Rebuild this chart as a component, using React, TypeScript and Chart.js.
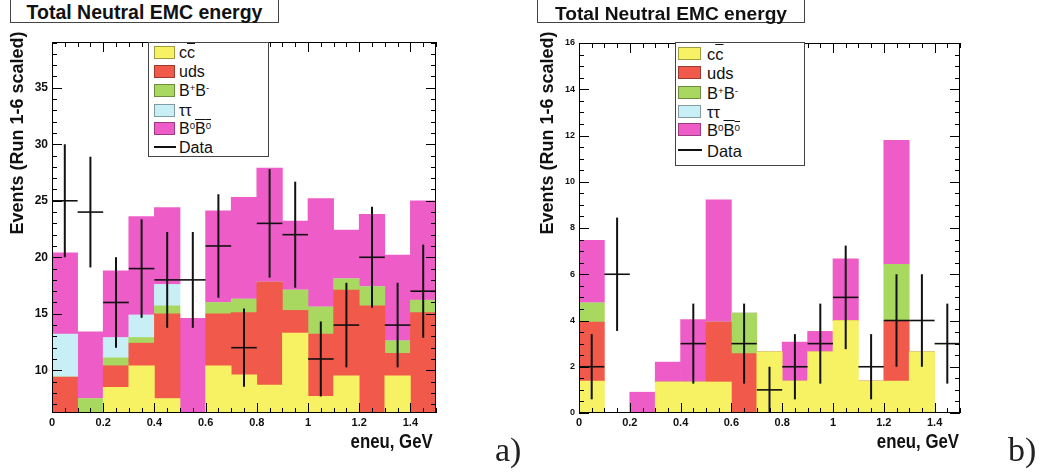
import React, { useEffect, useRef } from 'react';
import { Chart, registerables } from 'chart.js';

Chart.register(...registerables);

const FONT = '"Liberation Sans", Arial, Helvetica, sans-serif';

// ---- shared categories / ticks ----
const binCenters = [0.05, 0.15, 0.25, 0.35, 0.45, 0.55, 0.65, 0.75, 0.85, 0.95, 1.05, 1.15, 1.25, 1.35, 1.45];
const binHalfWidth = 0.05;
const xTickValues = [0, 0.2, 0.4, 0.6, 0.8, 1.0, 1.2, 1.4];
const xTickLabels = ['0', '0.2', '0.4', '0.6', '0.8', '1', '1.2', '1.4'];

const seriesNames = ['cc\u0305', 'uds', 'B\u207AB\u207B', '\u03C4\u03C4', 'B\u2070B\u0305\u2070'];
const seriesColors = ['#f6f264', '#f15a4a', '#a8d860', '#c8eff6', '#ee5cc8'];
const dataLabel = 'Data';
const titleText = 'Total Neutral EMC energy';
const yTitle = 'Events (Run 1-6 scaled)';
const xTitle = 'eneu, GeV';

// ---- panel a) ----
const aCC = [4.0, 2.7, 8.5, 10.4, 7.5, 2.7, 10.4, 9.6, 8.7, 13.3, 7.7, 9.5, 4.0, 9.5, 4.0];
const aUDS = [5.4, 2.3, 1.9, 2.0, 7.5, 2.3, 4.6, 5.5, 9.1, 2.0, 5.5, 7.6, 11.7, 2.0, 11.1];
const aBpBm = [0.0, 2.5, 0.7, 0.5, 0.7, 0.7, 1.0, 1.2, 0.0, 1.8, 2.4, 1.0, 1.7, 1.1, 1.1];
const aTauTau = [3.8, 0.0, 1.8, 2.0, 1.9, 0.3, 0, 0, 0, 0, 0, 0, 0, 0, 0];
const aB0B0 = [7.2, 5.9, 5.9, 8.7, 6.8, 8.6, 8.1, 9.0, 10.1, 6.1, 9.6, 4.3, 6.4, 7.6, 8.8];
const aData = [25, 24, 16, 19, 18, 18, 21, 12, 23, 22, 11, 14, 20, 14, 17];
const aErr = [5.0, 4.9, 4.0, 4.36, 4.24, 4.24, 4.58, 3.46, 4.8, 4.69, 3.32, 3.74, 4.47, 3.74, 4.12];
const aYTicks = [10, 15, 20, 25, 30, 35];
const aYTickLabels = ['10', '15', '20', '25', '30', '35'];

// ---- panel b) ----
const bCC = [1.38, 0, 0, 1.34, 1.34, 1.34, 0, 2.64, 1.38, 2.64, 4.0, 1.38, 1.38, 2.64, 0];
const bUDS = [2.55, 0, 0, 0, 0, 2.59, 2.57, 0, 0, 0, 0, 0, 2.6, 0, 0];
const bBpBm = [0.83, 0, 0, 0, 0, 0, 1.75, 0, 0, 0, 0, 0, 2.45, 0, 0];
const bTauTau = [0, 0, 0, 0, 0, 0, 0, 0, 0, 0, 0, 0, 0, 0, 0];
const bB0B0 = [2.71, 0, 0.9, 0.86, 2.7, 5.29, 0, 0, 1.69, 0.89, 2.67, 0, 5.36, 0, 0];
const bData = [2, 6, null, null, 3, null, 3, 1, 2, 3, 5, 2, 4, 4, 3];
const bErr = [1.41, 2.45, null, null, 1.73, null, 1.73, 1.0, 1.41, 1.73, 2.24, 1.41, 2.0, 2.0, 1.73];
const bYTicks = [0, 2, 4, 6, 8, 10, 12, 14, 16];
const bYTickLabels = ['0', '2', '4', '6', '8', '10', '12', '14', '16'];

type Panel = {
  comps: number[][];
  data: (number | null)[];
  err: (number | null)[];
  yMin: number;
  yMax: number;
  yTicks: number[];
  yTickLabels: string[];
  yMinorStep: number;
  yTickFont: number;
  xTickFont: number;
  padTop: number;
  padRight: number;
  yTitleX: number;
  xTitleRight: number;
};

function makeChart(canvas: HTMLCanvasElement, p: Panel) {
  const crossPlugin = {
    id: 'dataCross',
    afterDatasetsDraw(chart: any) {
      const { ctx, chartArea: ca } = chart;
      const xs = chart.scales.x;
      const ys = chart.scales.y;
      ctx.save();
      ctx.beginPath();
      ctx.rect(ca.left, ca.top, ca.right - ca.left, ca.bottom - ca.top);
      ctx.clip();
      ctx.strokeStyle = '#111';
      for (let i = 0; i < binCenters.length; i++) {
        const v = p.data[i];
        const e = p.err[i];
        if (v == null || e == null) continue;
        const x = xs.getPixelForValue(binCenters[i]);
        const x0 = xs.getPixelForValue(binCenters[i] - binHalfWidth);
        const x1 = xs.getPixelForValue(binCenters[i] + binHalfWidth);
        const y = ys.getPixelForValue(v);
        const y0 = ys.getPixelForValue(v - e);
        const y1 = ys.getPixelForValue(v + e);
        ctx.lineWidth = 1.6;
        ctx.beginPath();
        ctx.moveTo(x0, y);
        ctx.lineTo(x1, y);
        ctx.stroke();
        ctx.lineWidth = 2;
        ctx.beginPath();
        ctx.moveTo(x, y0);
        ctx.lineTo(x, y1);
        ctx.stroke();
      }
      ctx.restore();
    },
  };

  const framePlugin = {
    id: 'rootFrame',
    afterDraw(chart: any) {
      const { ctx, chartArea: ca } = chart;
      const xs = chart.scales.x;
      const ys = chart.scales.y;
      ctx.save();
      ctx.strokeStyle = '#000';
      ctx.lineWidth = 1;
      ctx.beginPath();
      for (let v = xs.min; v <= xs.max + 1e-9; v += 0.05) {
        const major = xTickValues.some((t) => Math.abs(t - v) < 1e-6);
        const len = major ? 10 : 5;
        const px = Math.round(xs.getPixelForValue(v)) + 0.5;
        ctx.moveTo(px, ca.bottom);
        ctx.lineTo(px, ca.bottom - len);
        ctx.moveTo(px, ca.top);
        ctx.lineTo(px, ca.top + len);
      }
      const yStart = Math.ceil(ys.min / p.yMinorStep - 1e-9) * p.yMinorStep;
      for (let v = yStart; v <= ys.max + 1e-9; v += p.yMinorStep) {
        const major = p.yTicks.some((t) => Math.abs(t - v) < 1e-6);
        const len = major ? 10 : 5;
        const py = Math.round(ys.getPixelForValue(v)) + 0.5;
        ctx.moveTo(ca.left, py);
        ctx.lineTo(ca.left + len, py);
        ctx.moveTo(ca.right, py);
        ctx.lineTo(ca.right - len, py);
      }
      ctx.stroke();
      ctx.strokeRect(ca.left + 0.5, ca.top + 0.5, ca.right - ca.left - 1, ca.bottom - ca.top - 1);

      // axis titles
      ctx.fillStyle = '#111';
      ctx.font = `bold 18px ${FONT}`;
      ctx.save();
      ctx.translate(p.yTitleX, 133);
      ctx.rotate(-Math.PI / 2);
      ctx.textAlign = 'center';
      ctx.textBaseline = 'middle';
      ctx.fillText(yTitle, 0, 0);
      ctx.restore();

      ctx.save();
      ctx.translate(p.xTitleRight, 448);
      ctx.scale(0.8, 1);
      ctx.font = `bold 21px ${FONT}`;
      ctx.textAlign = 'right';
      ctx.textBaseline = 'alphabetic';
      ctx.fillText(xTitle, 0, 0);
      ctx.restore();
      ctx.restore();
    },
  };

  return new Chart(canvas, {
    type: 'bar',
    data: {
      datasets: seriesNames.map((name, k) => ({
        label: name,
        data: binCenters.map((c, i) => ({ x: c, y: p.comps[k][i] })),
        backgroundColor: seriesColors[k],
        borderWidth: 0,
        barPercentage: 1,
        categoryPercentage: 1,
        clip: 0,
      })),
    },
    options: {
      animation: false,
      responsive: false,
      maintainAspectRatio: false,
      devicePixelRatio: 1,
      events: [],
      layout: { padding: { left: 0, top: p.padTop, right: p.padRight, bottom: 0 } },
      plugins: { legend: { display: false }, tooltip: { enabled: false }, title: { display: false } },
      scales: {
        x: {
          type: 'linear',
          min: 0,
          max: 1.5,
          offset: false,
          stacked: true,
          grid: { display: false, drawTicks: false },
          border: { display: false },
          ticks: {
            autoSkip: false,
            maxRotation: 0,
            padding: 3,
            color: '#111',
            font: { family: FONT, size: p.xTickFont, weight: 'bold' },
            callback: (_v: any, i: number) => xTickLabels[i],
          },
          afterBuildTicks: (s: any) => {
            s.ticks = xTickValues.map((value) => ({ value }));
          },
          afterFit: (s: any) => {
            s.height = 59;
          },
        },
        y: {
          type: 'linear',
          min: p.yMin,
          max: p.yMax,
          stacked: true,
          grid: { display: false, drawTicks: false },
          border: { display: false },
          ticks: {
            autoSkip: false,
            padding: 4,
            color: '#111',
            font: { family: FONT, size: p.yTickFont, weight: 'bold' },
            callback: (_v: any, i: number) => p.yTickLabels[i],
          },
          afterBuildTicks: (s: any) => {
            s.ticks = p.yTicks.map((value) => ({ value }));
          },
          afterFit: (s: any) => {
            s.width = 52;
          },
        },
      },
    } as any,
    plugins: [crossPlugin, framePlugin],
  });
}

const overline: React.CSSProperties = { textDecoration: 'overline' };
const supStyle: React.CSSProperties = { fontSize: '0.6em', verticalAlign: '0.55em', lineHeight: 0 };

function legendLabel(k: number) {
  switch (k) {
    case 0:
      return (<>c<span style={overline}>c</span></>);
    case 1:
      return <>uds</>;
    case 2:
      return (<>B<span style={supStyle}>+</span>B<span style={supStyle}>-</span></>);
    case 3:
      return <>{'\u03C4\u03C4'}</>;
    default:
      return (<>B<span style={supStyle}>0</span><span style={overline}>B<span style={supStyle}>0</span></span></>);
  }
}

type LegendProps = {
  left: number; top: number; width: number; height: number;
  swLeft: number; swWidth: number; textLeft: number; fontSize: number;
  centers: number[];
};

function Legend(props: LegendProps) {
  const { left, top, width, height, swLeft, swWidth, textLeft, fontSize, centers } = props;
  const textTop = (c: number) => c + 6.5 - 0.8465 * fontSize;
  return (
    <div style={{ position: 'absolute', left, top, width, height, boxSizing: 'border-box', border: '1px solid #444', background: '#fff', fontFamily: FONT, color: '#111' }}>
      {seriesNames.map((name, k) => (
        <React.Fragment key={name}>
          <div style={{ position: 'absolute', left: swLeft, top: centers[k] - 6.5, width: swWidth, height: 13, background: seriesColors[k], boxSizing: 'border-box', border: '1px solid rgba(0,0,0,0.35)' }} />
          <div style={{ position: 'absolute', left: textLeft, top: textTop(centers[k]), fontSize, lineHeight: `${fontSize}px`, whiteSpace: 'nowrap' }}>{legendLabel(k)}</div>
        </React.Fragment>
      ))}
      <div style={{ position: 'absolute', left: swLeft, top: centers[5] - 1, width: swWidth + 1, height: 2, background: '#111' }} />
      <div style={{ position: 'absolute', left: textLeft, top: textTop(centers[5]), fontSize, lineHeight: `${fontSize}px`, whiteSpace: 'nowrap' }}>{dataLabel}</div>
    </div>
  );
}

function TitleBox({ left, width, fontSize }: { left: number; width: number; fontSize: number }) {
  return (
    <div style={{ position: 'absolute', left, top: -10, width, height: 33, boxSizing: 'border-box', border: '1px solid #444', background: '#fff' }}>
      <div style={{ position: 'absolute', left: 0, right: 0, top: 11.5 + 18.3 - 0.8465 * fontSize - 1, textAlign: 'center', fontFamily: FONT, fontWeight: 'bold', fontSize, lineHeight: `${fontSize}px`, color: '#111', whiteSpace: 'nowrap' }}>{titleText}</div>
    </div>
  );
}

const panelLabelStyle: React.CSSProperties = { position: 'absolute', top: 432.5, fontFamily: '"Liberation Serif", "DejaVu Serif", serif', fontSize: 34, lineHeight: '34px', color: '#222' };

export default function App() {
  const refA = useRef<HTMLCanvasElement>(null);
  const refB = useRef<HTMLCanvasElement>(null);

  useEffect(() => {
    const a = makeChart(refA.current!, {
      comps: [aCC, aUDS, aBpBm, aTauTau, aB0B0],
      data: aData, err: aErr,
      yMin: 6.22, yMax: 39.05,
      yTicks: aYTicks, yTickLabels: aYTickLabels, yMinorStep: 1,
      yTickFont: 12, xTickFont: 11,
      padTop: 42, padRight: 91,
      yTitleX: 18.3, xTitleRight: 432.7,
    });
    const b = makeChart(refB.current!, {
      comps: [bCC, bUDS, bBpBm, bTauTau, bB0B0],
      data: bData, err: bErr,
      yMin: 0, yMax: 16,
      yTicks: bYTicks, yTickLabels: bYTickLabels, yMinorStep: 0.5,
      yTickFont: 9, xTickFont: 11,
      padTop: 43, padRight: 95,
      yTitleX: 21.3, xTitleRight: 432,
    });
    return () => {
      a.destroy();
      b.destroy();
    };
  }, []);

  return (
    <div style={{ position: 'absolute', left: 0, top: 0, width: 1055, height: 472, background: '#fff', overflow: 'hidden' }}>
      <canvas ref={refA} width={527} height={472} style={{ position: 'absolute', left: 0, top: 0, width: 527, height: 472 }} />
      <canvas ref={refB} width={528} height={472} style={{ position: 'absolute', left: 527, top: 0, width: 528, height: 472 }} />
      <TitleBox left={10} width={269} fontSize={19.5} />
      <TitleBox left={537} width={268} fontSize={19.2} />
      <Legend left={148} top={42} width={121} height={115} swLeft={5} swWidth={21} textLeft={30} fontSize={16}
        centers={[9, 28.5, 47.5, 67, 85.5, 104]} />
      <Legend left={675} top={42} width={130} height={124} swLeft={2} swWidth={23} textLeft={31} fontSize={16.5}
        centers={[10.3, 29.5, 49, 68, 86.7, 107]} />
      <div style={{ ...panelLabelStyle, left: 495 }}>a)</div>
      <div style={{ ...panelLabelStyle, left: 1008 }}>b)</div>
    </div>
  );
}
